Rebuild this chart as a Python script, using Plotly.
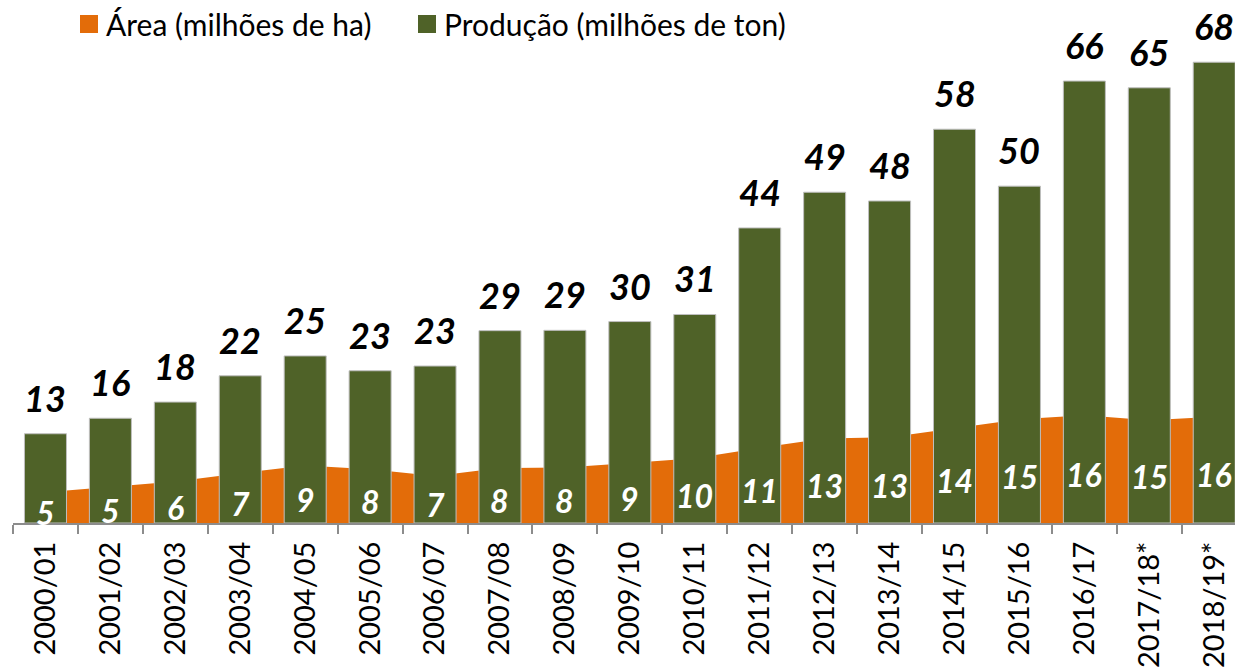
import plotly.graph_objects as go

# ---------------- data ----------------
categories = ["2000/01", "2001/02", "2002/03", "2003/04", "2004/05", "2005/06",
              "2006/07", "2007/08", "2008/09", "2009/10", "2010/11", "2011/12",
              "2012/13", "2013/14", "2014/15", "2015/16", "2016/17", "2017/18*",
              "2018/19*"]
area_mha = [4.55, 5.3, 6.15, 7.4, 8.55, 7.98, 6.98, 8.15, 8.22, 8.9, 9.6, 11.15,
            12.55, 12.72, 14.05, 15.4, 16.0, 15.26, 15.76]
production_mt = [13.25, 15.55, 17.95, 21.85, 24.8, 22.6, 23.3, 28.55, 28.6, 29.9,
                 30.95, 43.8, 49.1, 47.8, 58.45, 50.0, 65.6, 64.6, 68.4]
legend_labels = ["Área (milhões de ha)", "Produção (milhões de ton)"]

# ---------------- style ----------------
ORANGE = "#E36C09"
GREEN = "#4F6228"
FONT = "Lato"
W, H = 1235, 669
ML, MR, MT, MB = 13, 0, 11, 146
PW, PH = W - ML - MR, H - MT - MB


def px2x(px):
    return (px - ML) / PW


def py2y(py):
    return (H - MB - py) / PH


fig = go.Figure()

# area (drawn underneath, on main y axis)
fig.add_trace(go.Scatter(
    x=categories, y=area_mha, mode="lines", fill="tozeroy",
    line=dict(width=0, color=ORANGE), fillcolor=ORANGE,
    name=legend_labels[0], showlegend=False, yaxis="y", hoverinfo="skip"))

# production bars (on overlaying axis so they are drawn above the area)
fig.add_trace(go.Bar(
    x=categories, y=production_mt, name=legend_labels[1],
    marker=dict(color=GREEN, line=dict(color="#BFBFBF", width=1)),
    showlegend=False, yaxis="y2"))

# area value labels, centred in the area height
for c, v in zip(categories, area_mha):
    fig.add_annotation(
        x=c, y=v / 2, xref="x", yref="y2", text=f"{v:.0f}", showarrow=False,
        yanchor="middle", xanchor="center", yshift=-5,
        font=dict(family=FONT, size=32, color="white", weight="bold", style="italic"))

# production value labels above bars
for c, v in zip(categories, production_mt):
    fig.add_annotation(
        x=c, y=v, xref="x", yref="y2", text=f"{v:.0f}", showarrow=False,
        yanchor="bottom", xanchor="center", yshift=12,
        font=dict(family=FONT, size=36, color="black", weight="bold", style="italic"))

# custom legend
legend_items = [(legend_labels[0], ORANGE, 80, 98, 104),
                (legend_labels[1], GREEN, 418, 436, 442)]
for label, col, x0, x1, tx in legend_items:
    fig.add_shape(type="rect", xref="paper", yref="paper",
                  x0=px2x(x0), x1=px2x(x1), y0=py2y(33), y1=py2y(15),
                  fillcolor=col, line=dict(width=0))
    fig.add_annotation(x=px2x(tx), y=py2y(24), xref="paper", yref="paper",
                       text=label, showarrow=False, xanchor="left", yanchor="middle",
                       font=dict(family=FONT, size=30, color="black"))

fig.update_layout(
    width=W, height=H, autosize=False,
    margin=dict(l=ML, r=MR, t=MT, b=MB, pad=0),
    paper_bgcolor="white", plot_bgcolor="white",
    bargap=0.353,
    xaxis=dict(type="category", range=[-0.5, 18.32], tickson="boundaries",
               ticks="outside", ticklen=9, tickwidth=1.5, tickcolor="#8C8C8C",
               showline=True, linecolor="#8C8C8C", linewidth=2,
               tickangle=-90, ticklabelstandoff=5,
               tickfont=dict(family=FONT, size=29, color="black"),
               showgrid=False, zeroline=False, fixedrange=True),
    yaxis=dict(range=[0, 76], visible=False, showgrid=False, zeroline=False),
    yaxis2=dict(range=[0, 76], visible=False, overlaying="y", showgrid=False,
                zeroline=False),
    showlegend=False,
)

fig.write_html("out.html", config={"displayModeBar": False},
               post_script="document.body.style.margin='0';")
